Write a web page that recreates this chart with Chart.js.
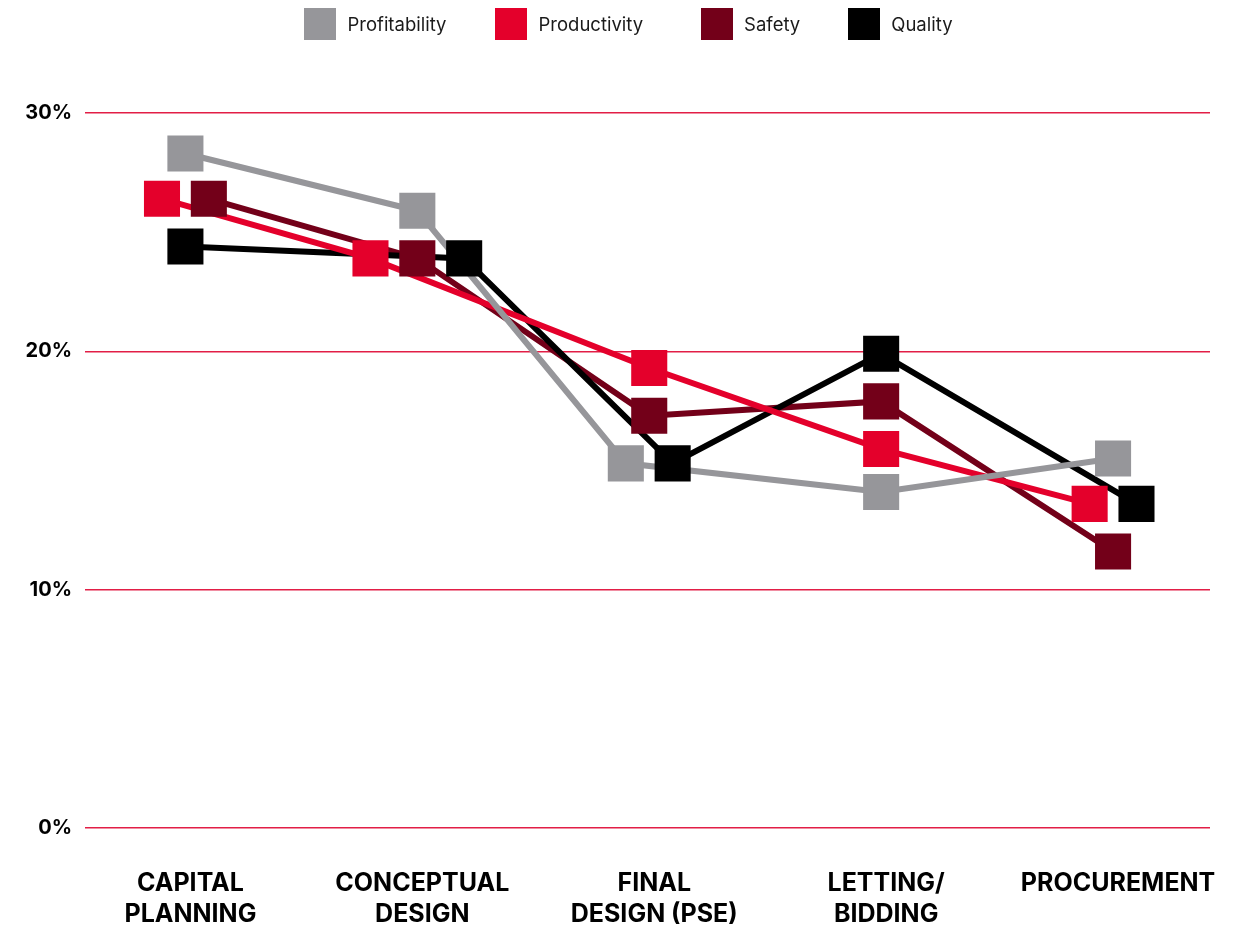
<!DOCTYPE html>
<html>
<head>
<meta charset="utf-8">
<title>Priorities by project phase</title>
<script src="https://cdn.jsdelivr.net/npm/chart.js@4"></script>
<style>
  html, body { margin: 0; padding: 0; background: #fff; }
  #wrap { position: relative; width: 1249px; height: 930px; }
  #legend {
    position: absolute; top: 8px; left: 8px; width: 1241px;
    display: flex; justify-content: center;
    font-family: Inter, "Noto Sans", sans-serif; font-size: 18.5px; color: #1a1a1a;
  }
  #legend .item { display: flex; align-items: center; }
  #legend .box { width: 32px; height: 32px; margin-right: 11px; }
</style>
</head>
<body>
<div id="wrap">
  <div id="legend"></div>
  <canvas id="phaseChart" width="1249" height="930"></canvas>
</div>
<script>
// project phases (x axis), two-line labels
const phases = [
  ['CAPITAL', 'PLANNING'],
  ['CONCEPTUAL', 'DESIGN'],
  ['FINAL', 'DESIGN (PSE)'],
  ['LETTING/', 'BIDDING'],
  ['PROCUREMENT']
];

// share of responses per phase, in %
const profitability = [28.3, 25.9, 15.3, 14.1, 15.5];
const productivity  = [26.4, 23.9, 19.3, 15.9, 13.6];
const safety        = [26.4, 23.9, 17.3, 17.9, 11.6];
const quality       = [24.4, 23.9, 15.3, 19.9, 13.6];

const yTicks = [0, 10, 20, 30];

// style per series; dodge = side slot so squares with equal values sit next to each other
// lineOrder: lower draws on top; gap = space after the legend entry
const series = [
  { label: 'Profitability', data: profitability, color: '#96969a', dodge: [0, 0, -1, 0, 0], lineOrder: 1, gap: 49 },
  { label: 'Productivity',  data: productivity,  color: '#e4002b', dodge: [-1, -2, 0, 0, -1], lineOrder: 2, gap: 58 },
  { label: 'Safety',        data: safety,        color: '#730019', dodge: [1, 0, 0, 0, 0],  lineOrder: 4, gap: 48 },
  { label: 'Quality',       data: quality,       color: '#000000', dodge: [0, 2, 1, 0, 1],  lineOrder: 3, gap: 0 }
];

const DODGE_STEP = 0.101;
const FONT = 'Inter, "Noto Sans", sans-serif';
const GRID_RED = 'rgb(226, 30, 70)';

function points(s) {
  return s.data.map((v, i) => ({ x: i + s.dodge[i] * DODGE_STEP, y: v }));
}

// lines go underneath, squares are drawn afterwards on top of every line
const datasets = [];
series.forEach(s => {
  datasets.push({
    label: s.label,
    data: points(s),
    borderColor: s.color,
    borderWidth: 6,
    pointRadius: 0,
    tension: 0,
    order: s.lineOrder
  });
});
series.forEach(s => {
  datasets.push({
    label: s.label + ' points',
    data: points(s),
    showLine: false,
    pointStyle: 'rect',
    pointRadius: 25.5,
    pointBorderWidth: 0,
    pointBackgroundColor: s.color,
    clip: false,
    order: 0
  });
});

// html legend
const legendEl = document.getElementById('legend');
series.forEach(s => {
  const item = document.createElement('div');
  item.className = 'item';
  item.style.marginRight = s.gap + 'px';
  const box = document.createElement('span');
  box.className = 'box';
  box.style.background = s.color;
  const txt = document.createElement('span');
  txt.textContent = s.label;
  item.appendChild(box);
  item.appendChild(txt);
  legendEl.appendChild(item);
});

const ctx = document.getElementById('phaseChart').getContext('2d');

new Chart(ctx, {
  type: 'line',
  data: { datasets: datasets },
  options: {
    responsive: false,
    animation: false,
    layout: { padding: { top: 113, right: 39, bottom: 0, left: 0 } },
    plugins: {
      legend: { display: false },
      tooltip: { enabled: false }
    },
    scales: {
      x: {
        type: 'linear',
        min: -0.433,
        max: 4.418,
        afterBuildTicks: scale => {
          scale.ticks = phases.map((p, i) => ({ value: i }));
        },
        afterFit: scale => {
          scale.height = 102;
          // long last label may hang past the plot edge
          scale.paddingLeft = 0;
          scale.paddingRight = 0;
        },
        grid: { display: false, drawTicks: false },
        border: { display: false },
        ticks: {
          autoSkip: false,
          maxRotation: 0,
          padding: 40,
          labelOffset: 5,
          color: '#000',
          font: { family: FONT, size: 25, weight: 'bold', lineHeight: 1.25 },
          callback: v => phases[v]
        }
      },
      y: {
        min: 0,
        max: 30,
        afterBuildTicks: scale => {
          scale.ticks = yTicks.map(v => ({ value: v }));
        },
        afterFit: scale => { scale.width = 85; },
        grid: { color: GRID_RED, lineWidth: 1.4, drawTicks: false },
        border: { display: false },
        ticks: {
          padding: 13,
          color: '#000',
          font: { family: FONT, size: 20, weight: 'bold' },
          callback: v => v + '%'
        }
      }
    }
  }
});
</script>
</body>
</html>
